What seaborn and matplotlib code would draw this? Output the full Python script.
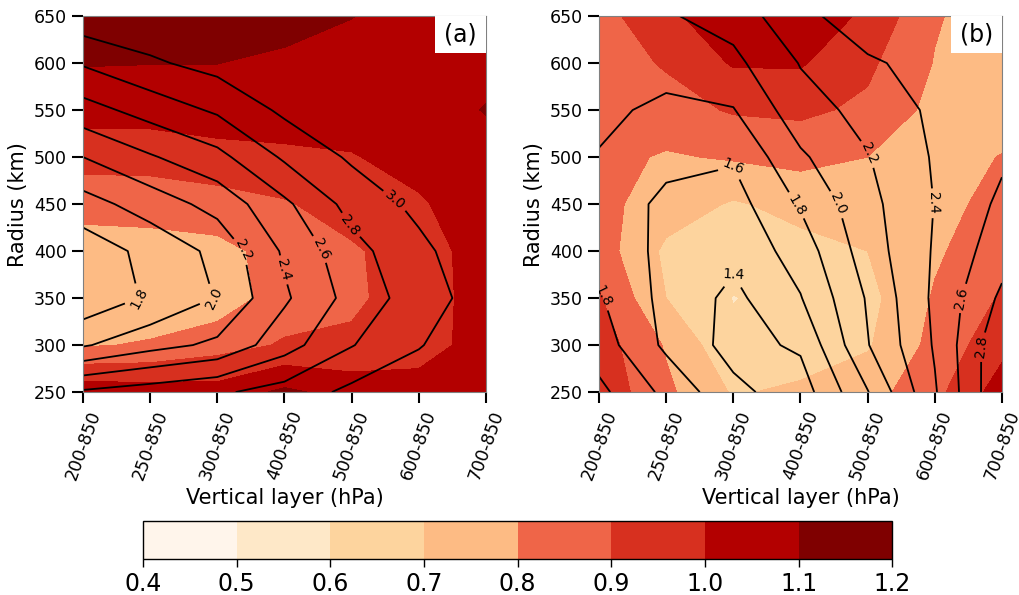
import matplotlib
matplotlib.use("Agg")
import matplotlib.pyplot as plt
from matplotlib.colors import ListedColormap, BoundaryNorm
from matplotlib.patches import Rectangle
import numpy as np
import seaborn as sns

# 垂直层与半径
layers = ["200-850", "250-850", "300-850", "400-850", "500-850", "600-850", "700-850"]
radius = [250, 300, 350, 400, 450, 500, 550, 600, 650]

# (a) 填色场，行对应 radius，列对应 layers
fill_a = [
    [1.06, 1.05, 1.04, 1.12, 1.06, 1.04, 1.05],
    [0.79, 0.81, 0.86, 0.91, 0.92, 0.96, 1.04],
    [0.74, 0.73, 0.74, 0.85, 0.88, 0.955, 1.04],
    [0.76, 0.76, 0.77, 0.84, 0.885, 0.96, 1.04],
    [0.83, 0.84, 0.86, 0.89, 0.95, 0.99, 1.05],
    [0.94, 0.94, 0.96, 0.98, 0.995, 1.03, 1.06],
    [1.04, 1.04, 1.06, 1.05, 1.04, 1.05, 1.105],
    [1.105, 1.102, 1.101, 1.085, 1.07, 1.06, 1.07],
    [1.18, 1.17, 1.16, 1.13, 1.102, 1.07, 1.06],
]
# (a) 等值线场
line_a = [
    [2.63, 2.70, 2.77, 2.88, 3.05, 3.10, 3.15],
    [1.98, 2.13, 2.24, 2.52, 2.79, 2.99, 3.12],
    [1.65, 1.83, 2.01, 2.37, 2.67, 2.90, 3.10],
    [1.68, 1.86, 2.05, 2.43, 2.73, 2.95, 3.15],
    [1.92, 2.09, 2.27, 2.56, 2.87, 3.05, 3.15],
    [2.20, 2.38, 2.54, 2.83, 3.03, 3.10, 3.15],
    [2.52, 2.68, 2.83, 3.04, 3.08, 3.12, 3.15],
    [2.82, 2.97, 3.07, 3.10, 3.12, 3.14, 3.15],
    [3.13, 3.15, 3.15, 3.15, 3.15, 3.15, 3.15],
]
# (b) 填色场
fill_b = [
    [0.97, 0.82, 0.69, 0.72, 0.76, 0.87, 1.05],
    [0.95, 0.79, 0.62, 0.64, 0.69, 0.83, 0.97],
    [0.91, 0.70, 0.597, 0.63, 0.67, 0.81, 0.91],
    [0.85, 0.68, 0.64, 0.67, 0.70, 0.785, 0.87],
    [0.83, 0.75, 0.69, 0.73, 0.77, 0.76, 0.84],
    [0.83, 0.79, 0.81, 0.83, 0.80, 0.75, 0.805],
    [0.84, 0.86, 0.91, 0.92, 0.88, 0.77, 0.74],
    [0.85, 0.91, 1.01, 1.01, 0.92, 0.795, 0.73],
    [0.86, 0.98, 1.06, 1.07, 0.98, 0.81, 0.74],
]
# (b) 等值线场
line_b = [
    [2.05, 1.75, 1.45, 1.30, 1.79, 2.38, 2.99],
    [1.90, 1.56, 1.33, 1.43, 1.99, 2.42, 2.97],
    [1.82, 1.54, 1.35, 1.59, 2.02, 2.44, 2.84],
    [1.68, 1.57, 1.45, 1.69, 2.10, 2.42, 2.715],
    [1.74, 1.55, 1.52, 1.82, 2.14, 2.405, 2.64],
    [1.79, 1.66, 1.62, 1.97, 2.19, 2.42, 2.57],
    [1.84, 1.76, 1.79, 2.12, 2.26, 2.44, 2.52],
    [1.88, 1.87, 1.95, 2.21, 2.38, 2.45, 2.50],
    [1.90, 1.98, 2.08, 2.36, 2.485, 2.52, 2.55],
]

# 标注位置
label_pos_a = [(0.9, 350), (1.95, 350), (2.39, 401), (2.99, 380), (3.51, 401), (3.95, 426), (4.6, 450)]
label_pos_b = [(1.99, 490), (1.99, 383), (2.99, 451), (3.58, 451), (4.03, 504), (5.0, 451),
               (0.04, 351), (5.39, 350), (5.71, 298)]

fill_levels = [0.4, 0.5, 0.6, 0.7, 0.8, 0.9, 1.0, 1.1, 1.2]
line_levels = [1.4, 1.6, 1.8, 2.0, 2.2, 2.4, 2.6, 2.8, 3.0]
colors = ["#fff5eb", "#fee8c8", "#fdd49e", "#fdbb84", "#ef6548", "#d7301f", "#b30000", "#7f0000"]

sns.set_theme(style="ticks")
plt.rcParams['font.family'] = ['DejaVu Sans']
plt.rcParams['text.color'] = 'black'
plt.rcParams['axes.labelcolor'] = 'black'
plt.rcParams['xtick.color'] = 'black'
plt.rcParams['ytick.color'] = 'black'

cmap = ListedColormap(colors)
norm = BoundaryNorm(fill_levels, cmap.N)

fig = plt.figure(figsize=(10.2, 5.95), dpi=100)
ax_a = fig.add_axes([0.0814, 0.341, 0.395, 0.632])
ax_b = fig.add_axes([0.5873, 0.341, 0.395, 0.632])

x = np.arange(len(layers))
y = np.array(radius)

for ax, fill, line, pos, tag in [(ax_a, fill_a, line_a, label_pos_a, "(a)"),
                                 (ax_b, fill_b, line_b, label_pos_b, "(b)")]:
    cf = ax.contourf(x, y, np.array(fill), levels=fill_levels, cmap=cmap, norm=norm)
    cs = ax.contour(x, y, np.array(line), levels=line_levels, colors="black", linewidths=1.3)
    ax.clabel(cs, manual=pos, fmt="%.1f", fontsize=10, inline=True, inline_spacing=4)
    ax.set_xlim(0, 6)
    ax.set_ylim(250, 650)
    ax.set_xticks(x)
    ax.set_xticklabels(layers, rotation=70, fontsize=12.5)
    ax.set_yticks(radius)
    ax.tick_params(axis="y", labelsize=12.5)
    ax.tick_params(length=8, width=1.5, color="black", direction="out")
    ax.set_xlabel("Vertical layer (hPa)", fontsize=15)
    ax.set_ylabel("Radius (km)", fontsize=15)
    for sp in ax.spines.values():
        sp.set_color("0.5")
        sp.set_linewidth(0.8)
    ax.add_patch(Rectangle((0.873, 0.902), 0.127, 0.098, transform=ax.transAxes,
                           facecolor="white", edgecolor="none", zorder=5))
    ax.text(0.9365, 0.951, tag, transform=ax.transAxes, ha="center", va="center",
            fontsize=17, zorder=6)

cax = fig.add_axes([0.140, 0.0605, 0.735, 0.064])
cb = fig.colorbar(cf, cax=cax, orientation="horizontal", ticks=fill_levels)
cb.ax.set_xticklabels([f"{v:.1f}" for v in fill_levels])
cb.ax.tick_params(labelsize=17, length=6, width=1, color="black")
cb.outline.set_edgecolor("black")
cb.outline.set_linewidth(1)

fig.savefig("out.png", dpi=100)
